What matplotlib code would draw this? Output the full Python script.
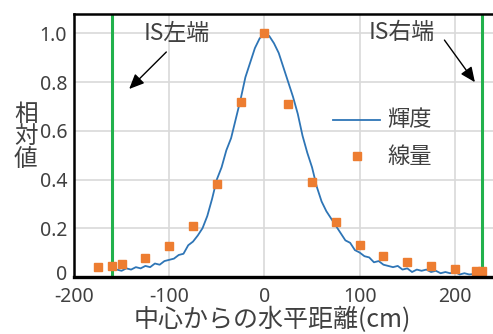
import matplotlib
matplotlib.use("Agg")
import matplotlib.pyplot as plt
from matplotlib.transforms import ScaledTranslation

plt.rcParams['font.family'] = ['Noto Sans CJK JP', 'DejaVu Sans']

# 輝度 (luminance), read every 5 cm
lum_x = list(range(-155, 230, 5))
lum_y = [0.03, 0.025, 0.035, 0.03, 0.04, 0.035, 0.045, 0.04, 0.055, 0.05,
         0.065, 0.07, 0.075, 0.09, 0.095, 0.13, 0.145, 0.17, 0.20, 0.25,
         0.32, 0.40, 0.45, 0.52, 0.57, 0.65, 0.73, 0.82, 0.88, 0.94,
         0.98, 1.0, 0.99, 0.96, 0.92, 0.86, 0.80, 0.74, 0.67, 0.58,
         0.51, 0.45, 0.37, 0.31, 0.27, 0.24, 0.21, 0.18, 0.15, 0.14,
         0.11, 0.10, 0.085, 0.08, 0.06, 0.065, 0.05, 0.045, 0.04, 0.045,
         0.03, 0.035, 0.02, 0.03, 0.025, 0.03, 0.02, 0.025, 0.015, 0.02,
         0.015, 0.02, 0.01, 0.015, 0.01, 0.012, 0.008]

# 線量 (dose)
dose_x = [-175, -160, -150, -125, -100, -75, -50, -25, 0, 25, 50, 75,
          100, 125, 150, 175, 200, 222, 228]
dose_y = [0.04, 0.045, 0.053, 0.078, 0.127, 0.21, 0.38, 0.72, 1.0, 0.71,
          0.39, 0.225, 0.13, 0.086, 0.061, 0.045, 0.033, 0.025, 0.025]

is_left, is_right = -160, 228

fig = plt.figure(figsize=(4.93, 3.34), dpi=100)
ax = fig.add_axes([0.150, 0.171, 0.850, 0.787])

ax.grid(True, color='#D9D9D9', linewidth=1.2)
ax.set_axisbelow(True)

ax.axvline(is_left, color='#22B14C', linewidth=2.2)
ax.axvline(is_right, color='#22B14C', linewidth=2.2)

ax.plot(lum_x, lum_y, color='#2E75B6', linewidth=1.3)
ax.plot(dose_x, dose_y, linestyle='none', marker='s', markersize=5.5,
        color='#ED7D31')

ax.set_xlim(-200, 240)
ax.set_ylim(0, 1.08)
ax.set_xticks([-200, -100, 0, 100, 200])
ax.set_xticklabels(['-200', '-100', '0', '100', '200'])
ax.set_yticks([0, 0.2, 0.4, 0.6, 0.8, 1.0])
ax.set_yticklabels(['0', '0.2', '0.4', '0.6', '0.8', '1.0'])
ax.tick_params(length=0, labelsize=14, colors='#404040', pad=5)
ax.tick_params(axis='x', pad=7)
for lab in ax.get_xticklabels() + ax.get_yticklabels():
    lab.set_family('Noto Sans')

# nudge the y "0" up a little so it clears the "-200" below it
zero = ax.yaxis.get_major_ticks()[0].label1
zero.set_transform(zero.get_transform()
                   + ScaledTranslation(0, 3 / 72, fig.dpi_scale_trans))

for s in ['left', 'top', 'bottom']:
    ax.spines[s].set_linewidth(1.8)
    ax.spines[s].set_color('black')
ax.spines['bottom'].set_linewidth(2.4)
ax.spines['right'].set_visible(False)

fig.text(0.552, 0.042, '中心からの水平距離(cm)', fontsize=18, color='#404040',
         ha='center', va='center')
fig.text(0.052, 0.590, '相\n対\n値', fontsize=17, color='#404040',
         ha='center', va='center', linespacing=0.95)

# IS edge labels and arrows
arrow = dict(arrowstyle='-|>,head_length=0.9,head_width=0.4',
             color='black', lw=1.0, shrinkA=0, shrinkB=0)
ax.text(-92, 1.0, 'IS左端', fontsize=16.5, color='#404040',
        ha='center', va='center')
ax.annotate('', xy=(-142, 0.772), xytext=(-103, 0.924), arrowprops=arrow)
ax.text(144, 1.005, 'IS右端', fontsize=16.5, color='#404040',
        ha='center', va='center')
ax.annotate('', xy=(221, 0.80), xytext=(189, 0.973), arrowprops=arrow)

# legend drawn by hand inside the plot
ax.plot([72, 121], [0.645, 0.645], color='#2E75B6', linewidth=1.3)
ax.text(129, 0.645, '輝度', fontsize=16, color='#404040', va='center')
ax.plot([97], [0.495], linestyle='none', marker='s', markersize=5.5,
        color='#ED7D31')
ax.text(129, 0.495, '線量', fontsize=16, color='#404040', va='center')

fig.savefig('out.png', dpi=100)
